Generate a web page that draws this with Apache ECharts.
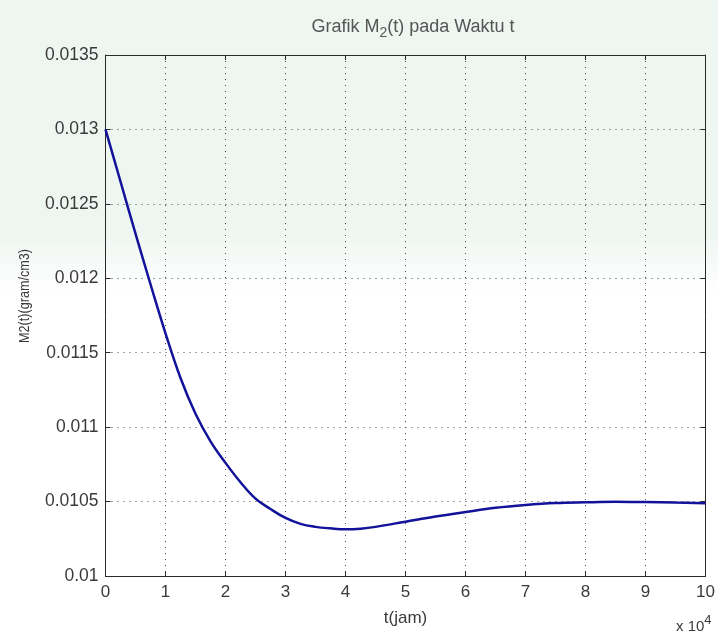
<!DOCTYPE html>
<html>
<head>
<meta charset="utf-8">
<script src="https://cdn.jsdelivr.net/npm/echarts@6/dist/echarts.min.js"></script>
<style>
  html, body { margin: 0; padding: 0; background: #ffffff; }
  #chart { width: 718px; height: 637px; }
</style>
</head>
<body>
<div id="chart"></div>
<script>
// time in units of 10^4 hours
const tValues = [0, 0.25, 0.5, 0.75, 1.0, 1.25, 1.5, 1.75, 2.0, 2.25, 2.5, 2.75, 3.0, 3.25, 3.5, 3.75, 4.0, 4.25, 4.5, 5.0, 5.5, 6.0, 6.5, 7.0, 7.5, 8.0, 8.5, 9.0, 9.5, 10.0];
// concentration M2(t) in gram/cm3
const m2Values = [0.01300, 0.01265, 0.01230, 0.01196, 0.01163, 0.01133, 0.01109, 0.010905, 0.01076, 0.01063, 0.01052, 0.01045, 0.01039, 0.01035, 0.01033, 0.01032, 0.010314, 0.010318, 0.01033, 0.010365, 0.01040, 0.01043, 0.010458, 0.010477, 0.01049, 0.010495, 0.010498, 0.010497, 0.010493, 0.010489];
const xTickLabels = ['0', '1', '2', '3', '4', '5', '6', '7', '8', '9', '10'];
const yTickLabels = ['0.01', '0.0105', '0.011', '0.0115', '0.012', '0.0125', '0.013', '0.0135'];

const chart = echarts.init(document.getElementById('chart'), null, { renderer: 'canvas' });

const textColor = '#3a3a3a';
const axisColor = '#2a2a2a';
const font = 'Liberation Sans, Arial, sans-serif';

const gridDots = { color: '#4a4a4a', width: 1, type: [1, 5] };

const option = {
  backgroundColor: {
    type: 'linear', x: 0, y: 0, x2: 0, y2: 1,
    colorStops: [
      { offset: 0, color: '#edf6f0' },
      { offset: 0.36, color: '#eef6f1' },
      { offset: 0.46, color: '#ffffff' },
      { offset: 1, color: '#ffffff' }
    ]
  },
  animation: false,
  graphic: [
    {
      type: 'text',
      left: 676,
      top: 614,
      style: {
        text: 'x 10{sup|4}',
        font: '15px ' + font,
        fill: textColor,
        rich: { sup: { fontSize: 13, fontFamily: font, padding: [0, 0, 12, 0], fill: textColor } }
      }
    },
    {
      // vertical axis title, set in a condensed width
      type: 'text',
      x: 25,
      y: 296,
      rotation: Math.PI / 2,
      scaleX: 0.84,
      style: {
        text: 'M2(t)(gram/cm3)',
        font: '15px ' + font,
        fill: textColor,
        align: 'center',
        verticalAlign: 'middle'
      }
    }
  ],
  title: {
    text: 'Grafik M{sub|2}(t) pada Waktu t',
    left: 408,
    top: 9,
    textAlign: 'center',
    textStyle: {
      fontFamily: font,
      fontSize: 18,
      fontWeight: 'normal',
      color: '#555',
      rich: { sub: { fontSize: 14, color: '#555', padding: [12, 0, 0, 0], fontFamily: font } }
    }
  },
  grid: { left: 105.5, right: 1.5, top: 55, bottom: 61, show: false },
  xAxis: [
    {
      type: 'value',
      min: 0, max: 10, interval: 1,
      position: 'bottom',
      name: 't(jam)',
      nameLocation: 'middle',
      nameGap: 34,
      nameTextStyle: { fontFamily: font, fontSize: 17, color: textColor },
      axisLine: { show: true, onZero: false, lineStyle: { color: axisColor, width: 1 } },
      axisTick: { show: true, inside: true, length: 5, lineStyle: { color: axisColor } },
      axisLabel: { fontFamily: font, fontSize: 17, color: textColor, margin: 8,
        formatter: (v) => xTickLabels[Math.round(v)] },
      splitLine: { show: true, lineStyle: gridDots }
    },
    {
      type: 'value',
      min: 0, max: 10, interval: 1,
      position: 'top',
      axisLine: { show: true, onZero: false, lineStyle: { color: axisColor, width: 1 } },
      axisTick: { show: true, inside: true, length: 5, lineStyle: { color: axisColor } },
      axisLabel: { show: false },
      splitLine: { show: false }
    }
  ],
  yAxis: [
    {
      type: 'value',
      min: 0.01, max: 0.0135, interval: 0.0005,
      position: 'left',
      axisLine: { show: true, onZero: false, lineStyle: { color: axisColor, width: 1 } },
      axisTick: { show: true, inside: true, length: 5, lineStyle: { color: axisColor } },
      axisLabel: { fontFamily: font, fontSize: 17.5, color: textColor, margin: 7,
        formatter: (v) => yTickLabels[Math.round((v - 0.01) / 0.0005)] },
      splitLine: { show: true, lineStyle: gridDots }
    },
    {
      type: 'value',
      min: 0.01, max: 0.0135, interval: 0.0005,
      position: 'right',
      axisLine: { show: true, onZero: false, lineStyle: { color: axisColor, width: 1 } },
      axisTick: { show: true, inside: true, length: 5, lineStyle: { color: axisColor } },
      axisLabel: { show: false },
      splitLine: { show: false }
    }
  ],
  series: [
    {
      type: 'line',
      xAxisIndex: 0,
      yAxisIndex: 0,
      data: tValues.map((t, i) => [t, m2Values[i]]),
      smooth: 0.4,
      showSymbol: false,
      lineStyle: { color: '#12129a', width: 2.5 }
    }
  ]
};

chart.setOption(option);
</script>
</body>
</html>
